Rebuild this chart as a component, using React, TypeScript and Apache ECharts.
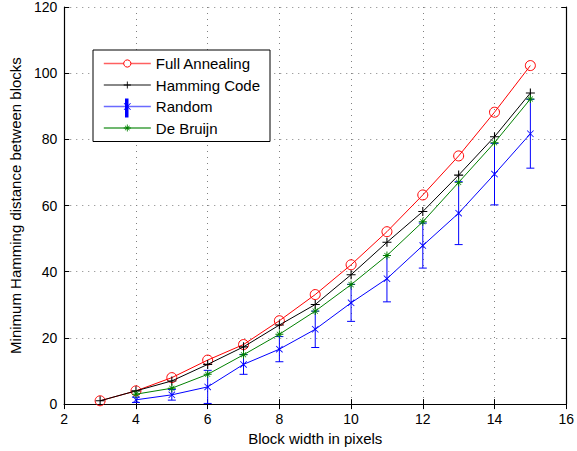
import React, { useEffect, useRef } from "react";
import * as echarts from "echarts";

const blockWidths = [3, 4, 5, 6, 7, 8, 9, 10, 11, 12, 13, 14, 15];
const fullAnnealing = [1, 4, 8, 13.3, 18, 25.2, 33.1, 42.1, 52.1, 63.2, 75, 88.2, 102.3];
const hammingCode = [1, 4, 7, 12, 17.3, 23.9, 30.1, 39.1, 48.9, 58.2, 69.2, 80.8, 94];
const otherWidths = [4, 5, 6, 7, 8, 9, 10, 11, 12, 13, 14, 15];
const randomMean = [1.3, 2.8, 5.2, 12, 16.6, 22.6, 30.6, 37.9, 47.9, 57.7, 69.5, 81.7];
const randomErr = [0.8, 1.6, 5, 3, 3.8, 5.5, 5.6, 7, 6.8, 9.5, 9.3, 10.4];
const deBruijn = [3, 4.8, 9, 14.9, 21.1, 28.1, 36.1, 44.9, 55.1, 67, 79, 92.2];
const seriesNames = ["Full Annealing", "Hamming Code", "Random", "De Bruijn"];
const legendLineColors = ["#ff6060", "#606060", "#6a6aff", "#40a040"];
const xTitle = "Block width in pixels";
const yTitle = "Minimum Hamming distance between blocks";

const FONT = "Liberation Sans, Arial, Helvetica, sans-serif";
const PLUS = "path://M4.4,0H5.6V10H4.4Z M0,4.4H10V5.6H0Z";
const CROSS = "path://M0,0.8L0.8,0L10,9.2L9.2,10Z M9.2,0L10,0.8L0.8,10L0,9.2Z";
const STAR =
  "path://M4.4,0H5.6V10H4.4Z M0,4.4H10V5.6H0Z M1.5,2.1L2.1,1.5L8.5,7.9L7.9,8.5Z M7.9,1.5L8.5,2.1L2.1,8.5L1.5,7.9Z";

export default function App() {
  const ref = useRef<HTMLDivElement>(null);
  useEffect(() => {
    if (!ref.current) return;
    const chart = echarts.init(ref.current, undefined, { renderer: "svg" });
    const zip = (xs: number[], ys: number[]) => xs.map((x, i) => [x, ys[i]]);
    const errData = otherWidths.map((x, i) => [x, randomMean[i] - randomErr[i], randomMean[i] + randomErr[i]]);

    const axisCommon = {
      axisLine: { show: true, lineStyle: { color: "#000", width: 1.2 } },
      axisTick: { show: true, inside: true, length: 5, lineStyle: { color: "#000" } },
    };

    chart.setOption({
      animation: false,
      backgroundColor: "#fff",
      textStyle: { fontFamily: FONT },
      grid: { left: 62, right: 5, top: 7, bottom: 45, containLabel: false },
      legend: {
        orient: "vertical",
        left: 93,
        top: 50,
        padding: [6, 10, 6, 10],
        itemGap: 6.5,
        itemWidth: 47,
        itemHeight: 9,
        borderColor: "#000",
        borderWidth: 1,
        backgroundColor: "#fff",
        textStyle: { fontFamily: FONT, fontSize: 15, color: "#000" },
        data: seriesNames.map((n, i) => ({
          name: n,
          lineStyle: { width: 1.6, color: legendLineColors[i] },
          ...(i === 0 ? { itemStyle: { color: "#ffffff", borderColor: "#ff0000", borderWidth: 1 } } : {}),
        })),
      },
      xAxis: [
        {
          type: "value",
          min: 2,
          max: 16,
          interval: 2,
          name: xTitle,
          nameLocation: "middle",
          nameGap: 24,
          nameTextStyle: { fontFamily: FONT, fontSize: 15, color: "#000" },
          ...axisCommon,
          axisLabel: { fontFamily: FONT, fontSize: 14, color: "#000", margin: 8 },
          splitLine: { show: true, lineStyle: { color: "#808080", type: [1, 5], width: 1 } },
        },
        {
          type: "value",
          position: "top",
          min: 2,
          max: 16,
          interval: 2,
          ...axisCommon,
          axisLabel: { show: false },
          splitLine: { show: false },
        },
      ],
      yAxis: [
        {
          type: "value",
          min: 0,
          max: 120,
          interval: 20,
          name: yTitle,
          nameLocation: "middle",
          nameGap: 37,
          nameTextStyle: { fontFamily: FONT, fontSize: 15, color: "#000" },
          ...axisCommon,
          axisLabel: { fontFamily: FONT, fontSize: 14, color: "#000", margin: 7 },
          splitLine: { show: true, lineStyle: { color: "#808080", type: [1, 5], width: 1 } },
        },
        {
          type: "value",
          position: "right",
          min: 0,
          max: 120,
          interval: 20,
          ...axisCommon,
          axisLabel: { show: false },
          splitLine: { show: false },
        },
      ],
      series: [
        {
          name: seriesNames[0],
          type: "line",
          data: zip(blockWidths, fullAnnealing),
          color: "#ff0000",
          lineStyle: { color: "#ff0000", width: 1 },
          symbol: "circle",
          symbolSize: 10,
          itemStyle: { color: "rgba(255,255,255,0)", borderColor: "#ff0000", borderWidth: 1 },
          z: 2,
        },
        {
          name: seriesNames[1],
          type: "line",
          data: zip(blockWidths, hammingCode),
          color: "#000000",
          lineStyle: { color: "#000000", width: 1 },
          symbol: PLUS,
          symbolSize: 9,
          itemStyle: { color: "#000000", borderWidth: 0 },
          z: 3,
        },
        {
          name: seriesNames[2],
          type: "line",
          data: zip(otherWidths, randomMean),
          color: "#0000ff",
          lineStyle: { color: "#0000ff", width: 1 },
          symbol: CROSS,
          symbolSize: 7,
          itemStyle: { color: "#0000ff", borderWidth: 0 },
          z: 4,
        },
        {
          name: "RandomError",
          type: "custom",
          data: errData,
          encode: { x: 0, y: [1, 2] },
          z: 4,
          renderItem: (params: any, api: any) => {
            const x = api.value(0);
            const lo = api.coord([x, api.value(1)]);
            const hi = api.coord([x, api.value(2)]);
            const w = 4;
            const st = { stroke: "#0000ff", lineWidth: 1 };
            return {
              type: "group",
              children: [
                { type: "line", shape: { x1: lo[0], y1: lo[1], x2: hi[0], y2: hi[1] }, style: st },
                { type: "line", shape: { x1: lo[0] - w, y1: lo[1], x2: lo[0] + w, y2: lo[1] }, style: st },
                { type: "line", shape: { x1: hi[0] - w, y1: hi[1], x2: hi[0] + w, y2: hi[1] }, style: st },
              ],
            };
          },
        },
        {
          name: seriesNames[3],
          type: "line",
          data: zip(otherWidths, deBruijn),
          color: "#008000",
          lineStyle: { color: "#008000", width: 1 },
          symbol: STAR,
          symbolSize: 8,
          itemStyle: { color: "#008000", borderWidth: 0 },
          z: 5,
        },
      ],
      graphic: [
        {
          type: "rect",
          z: 100,
          shape: { x: 125, y: 98.5, width: 3.5, height: 19 },
          style: { fill: "#0000ff" },
        },
      ],
    });
    return () => chart.dispose();
  }, []);
  return (
    <div
      ref={ref}
      style={{ position: "fixed", left: 0, top: 0, width: 577, height: 451, background: "#fff" }}
    />
  );
}
